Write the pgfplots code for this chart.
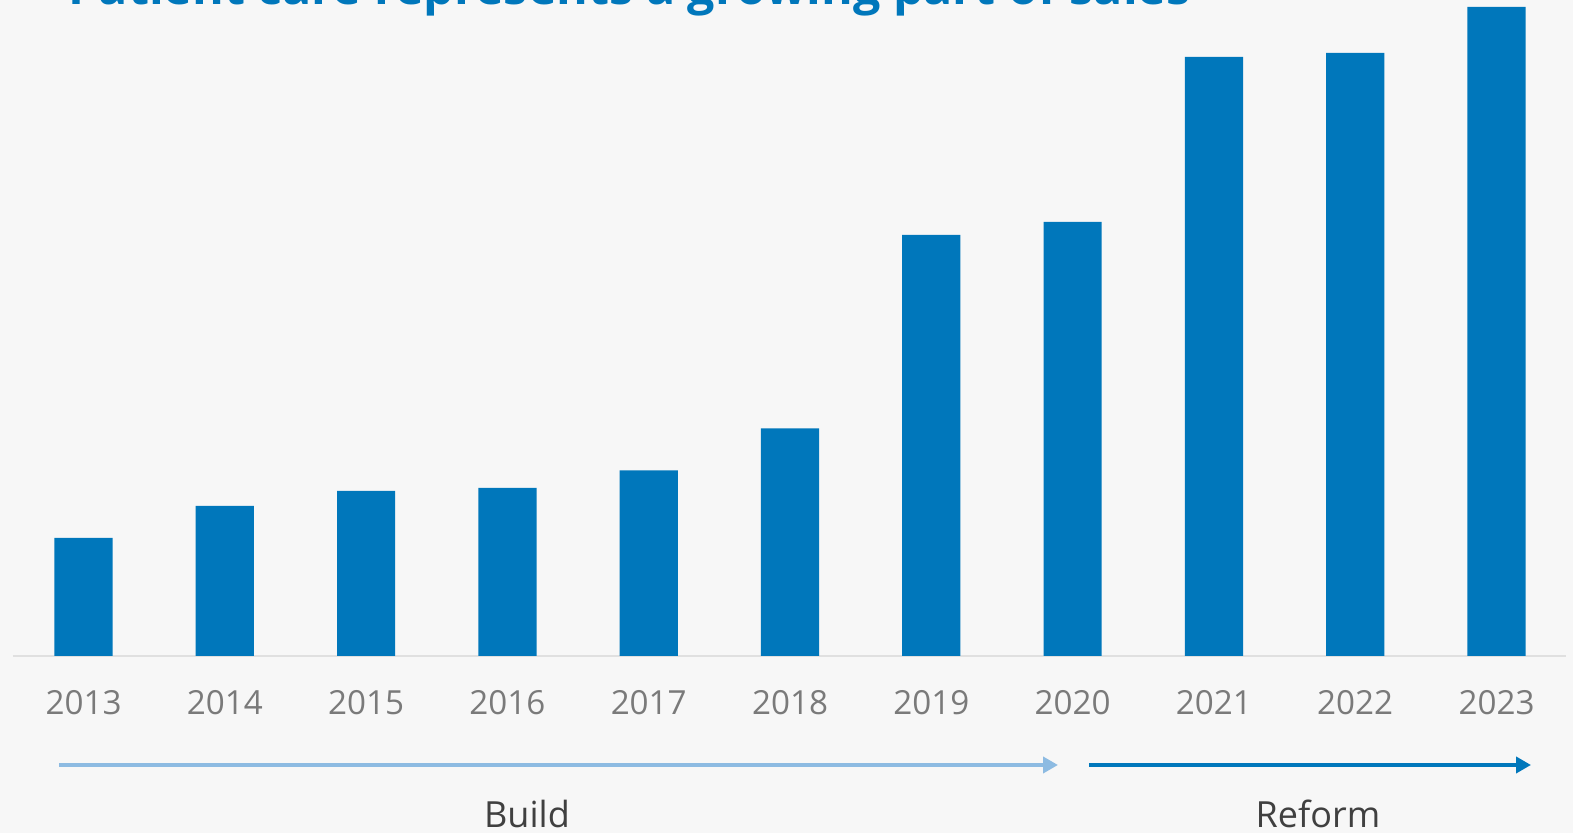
\documentclass[border=0pt]{standalone}
\usepackage{pgfplots}
\pgfplotsset{compat=1.18}
\usepackage{fontspec}
\setmainfont{Open Sans}
\usetikzlibrary{arrows.meta}
\definecolor{bg}{HTML}{F7F7F7}
\definecolor{barblue}{HTML}{0077BB}
\definecolor{lightblue}{HTML}{8DBBE2}
\definecolor{ticgrey}{HTML}{7A7A7A}
\definecolor{labgrey}{HTML}{404040}
\definecolor{axgrey}{HTML}{E0E0E0}
\begin{document}
\begin{tikzpicture}
\useasboundingbox (0,0) rectangle (786.5pt,416.5pt);
\clip (0,0) rectangle (786.5pt,416.5pt);
\fill[bg] (0,0) rectangle (786.5pt,416.5pt);
\node[anchor=base west, text=barblue, font=\fontsize{24.2}{28}\selectfont\bfseries, inner sep=0pt] at (34pt,414pt) {Patient care represents a growing part of sales};
\begin{axis}[
  at={(6.3pt,88.5pt)}, anchor=south west,
  scale only axis, width=776.7pt, height=328pt,
  xmin=-0.502, xmax=10.492, ymin=0, ymax=656,
  axis x line=bottom, axis y line=none,
  x axis line style={draw=axgrey, line width=0.8pt, -},
  xtick=data, major tick length=0pt,
  xticklabels={2013,2014,2015,2016,2017,2018,2019,2020,2021,2022,2023},
  xticklabel style={anchor=base, yshift=-29.5pt, text=ticgrey, font=\fontsize{16.6}{20}\selectfont},
  ytick=\empty,
  clip=false,
]
\addplot[ybar, bar width=29.1pt, fill=barblue, draw=none] coordinates {
(0,118) (1,150) (2,165) (3,168) (4,185.5) (5,227.6) (6,421) (7,434) (8,599) (9,603) (10,649)
};
\end{axis}
\draw[lightblue, line width=2pt, -{Triangle[length=7.5pt,width=8pt]}] (29.5pt,34pt) -- (529pt,34pt);
\draw[barblue, line width=2pt, -{Triangle[length=7.5pt,width=8pt]}] (544.5pt,34pt) -- (765.5pt,34pt);
\node[anchor=base, text=labgrey, font=\fontsize{18}{22}\selectfont, inner sep=0pt] at (263.5pt,2.5pt) {Build};
\node[anchor=base, text=labgrey, font=\fontsize{18}{22}\selectfont, inner sep=0pt] at (659pt,2.5pt) {Reform};
\end{tikzpicture}
\end{document}
